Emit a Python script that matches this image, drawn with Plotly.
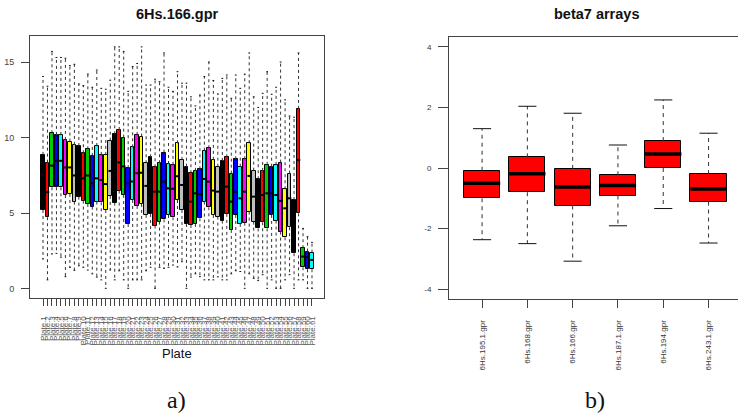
import plotly.graph_objects as go

# ---- Panel a: 61 plates of 6Hs.166.gpr ----
plate_labels = [f"Plate.{i}" for i in range(1, 62)]
plate_q1 = [5.22, 4.74, 6.72, 6.72, 6.72, 6.21, 6.28, 5.77, 6.10, 5.84,
            5.62, 5.44, 5.77, 5.73, 5.22, 6.15, 5.70, 6.50, 6.21, 4.30,
            5.88, 5.49, 5.62, 4.89, 4.95, 4.19, 4.45, 4.60, 4.89, 4.74,
            5.88, 5.22, 4.30, 4.23, 4.30, 4.67, 5.77, 5.40, 4.89, 4.78,
            4.52, 4.96, 3.90, 4.89, 4.30, 4.38, 5.11, 4.45, 4.00, 4.41,
            4.00, 4.89, 4.52, 3.79, 3.41, 4.08, 2.36, 5.00, 1.43, 1.30, 1.30]
plate_median = [6.72, 6.40, 8.15, 8.47, 8.47, 8.03, 8.03, 7.50, 7.40, 7.31,
                7.50, 6.98, 7.31, 7.20, 6.93, 7.80, 7.90, 8.36, 8.10, 6.98,
                7.10, 7.65, 7.68, 6.81, 6.50, 6.43, 6.43, 7.09, 6.65, 6.62,
                7.45, 6.87, 6.00, 5.77, 6.32, 6.28, 7.27, 7.09, 6.50, 6.43,
                6.40, 6.76, 5.77, 6.43, 5.99, 6.43, 7.47, 6.10, 5.90, 6.21,
                6.32, 6.32, 6.21, 5.82, 5.33, 5.99, 4.60, 8.53, 2.14, 2.10, 1.92]
plate_q3 = [8.86, 8.35, 10.29, 10.18, 10.18, 9.85, 9.74, 9.52, 9.45, 8.97,
            9.23, 8.79, 9.45, 8.86, 8.86, 9.80, 10.22, 10.51, 10.00, 7.98,
            9.36, 10.18, 10.07, 8.31, 8.70, 8.04, 8.31, 9.01, 8.26, 8.20,
            9.63, 8.53, 8.08, 7.65, 7.80, 7.91, 9.14, 9.30, 8.53, 8.08,
            8.46, 8.70, 7.62, 8.57, 8.08, 8.57, 9.63, 7.82, 7.25, 7.80,
            8.20, 8.08, 8.20, 8.35, 6.59, 7.62, 5.88, 11.90, 2.69, 2.47, 2.40]
plate_max = [14.04, 13.40, 15.70, 15.30, 15.30, 15.25, 14.76, 14.85, 13.55, 13.44,
             14.20, 13.33, 14.47, 13.26, 13.20, 13.80, 16.00, 16.00, 15.70, 13.06,
             14.70, 14.90, 16.00, 13.48, 13.48, 13.86, 13.70, 15.60, 13.33, 13.06,
             14.36, 13.60, 13.60, 12.70, 12.10, 12.82, 14.04, 15.00, 13.78, 12.89,
             13.92, 14.14, 12.60, 14.14, 13.26, 14.20, 15.60, 12.70, 12.00, 12.93,
             14.36, 12.87, 13.33, 15.00, 12.50, 11.43, 11.35, 15.60, 4.00, 3.45, 3.08]
plate_min = [1.98, 0.60, 2.31, 2.35, 2.10, 0.81, 1.43, 1.23, 1.53, 1.43,
             1.25, 1.00, 0.78, 0.60, 0.04, 1.25, 0.60, 1.20, 0.60, 0.04,
             0.60, 0.60, 0.60, 1.20, 1.43, 0.04, 1.43, 1.36, 1.43, 1.58,
             1.45, 1.80, 0.04, 0.78, 1.00, 0.81, 0.60, 0.60, 0.60, 0.80,
             0.60, 0.60, 1.00, 1.20, 1.15, 0.04, 1.00, 0.70, 0.55, 0.94,
             0.04, 0.60, 0.04, 0.04, 0.60, 0.94, 0.04, 0.60, 0.60, 0.04, 0.04]
plate_palette = ["#000000", "#FF0000", "#00CD00", "#0000FF",
                 "#00FFFF", "#FF00FF", "#FFFF00", "#BEBEBE"]

# ---- Panel b: beta7 arrays ----
array_labels = ["6Hs.195.1.gpr", "6Hs.168.gpr", "6Hs.166.gpr",
                "6Hs.187.1.gpr", "6Hs.194.gpr", "6Hs.243.1.gpr"]
array_q1 = [-1.00, -0.80, -1.24, -0.91, 0.00, -1.11]
array_median = [-0.50, -0.19, -0.63, -0.58, 0.46, -0.69]
array_q3 = [-0.09, 0.35, -0.03, -0.24, 0.89, -0.20]
array_max = [1.30, 2.04, 1.81, 0.76, 2.25, 1.15]
array_min = [-2.37, -2.50, -3.08, -1.91, -1.34, -2.48]

W, H = 738, 417
FONT = "Liberation Sans"
AXC = "#444444"


def px_x(p):
    return p / W


def px_y(p):
    return 1 - p / H


def box_traces(pos, q1, med, q3, lo, hi, colors, xa, ya,
               box_w, staple_w, med_w, dash, wcolor):
    wx, wy, sx, sy, mx, my = [], [], [], [], [], []
    for x, a, m, b, l, h in zip(pos, q1, med, q3, lo, hi):
        wx += [x, x, None, x, x, None]
        wy += [b, h, None, a, l, None]
        sx += [x - staple_w / 2, x + staple_w / 2, None,
               x - staple_w / 2, x + staple_w / 2, None]
        sy += [h, h, None, l, l, None]
        mx += [x - box_w / 2, x + box_w / 2, None]
        my += [m, m, None]
    common = dict(xaxis=xa, yaxis=ya, mode="lines", hoverinfo="skip",
                  showlegend=False)
    return [
        go.Scatter(x=wx, y=wy, line=dict(color=wcolor, width=1, dash=dash), **common),
        go.Scatter(x=sx, y=sy, line=dict(color="#111111", width=1), **common),
        go.Bar(x=pos, base=q1, y=[b - a for a, b in zip(q1, q3)], width=box_w,
               marker=dict(color=colors, line=dict(color="#000000", width=1)),
               xaxis=xa, yaxis=ya, showlegend=False, hoverinfo="skip"),
        go.Scatter(x=mx, y=my, line=dict(color="#000000", width=med_w), **common),
    ]


fig = go.Figure()

pos_a = list(range(1, len(plate_q1) + 1))
colors_a = [plate_palette[i % 8] for i in range(len(pos_a))]
for t in box_traces(pos_a, plate_q1, plate_median, plate_q3, plate_min, plate_max,
                    colors_a, "x", "y", 0.8, 0.4, 2, "3px,3px", "#333333"):
    fig.add_trace(t)

pos_b = list(range(1, len(array_q1) + 1))
for t in box_traces(pos_b, array_q1, array_median, array_q3, array_min, array_max,
                    ["#FF0000"] * len(pos_b), "x2", "y2", 0.8, 0.4, 3.5,
                    "4px,4px", "#333333"):
    fig.add_trace(t)

axis_common = dict(showgrid=False, zeroline=False, showline=True,
                   linecolor=AXC, linewidth=1, ticks="outside",
                   tickcolor=AXC, tickwidth=1, fixedrange=True)

fig.update_layout(
    width=W, height=H,
    margin=dict(l=0, r=0, t=0, b=0),
    paper_bgcolor="white", plot_bgcolor="white",
    bargap=0, barmode="overlay",
    font=dict(family=FONT, color="#333333"),
    xaxis=dict(domain=[px_x(30), px_x(324)], range=[-1.9, 63.68],
               tickmode="array", tickvals=pos_a, ticktext=plate_labels,
               tickangle=-90, ticklen=7, ticklabelstandoff=7,
               tickfont=dict(size=8, color="#555555"),
               mirror=True, anchor="y", **axis_common),
    yaxis=dict(domain=[px_y(298), px_y(36)], range=[-0.6, 16.72],
               tickmode="array", tickvals=[0, 5, 10, 15],
               ticklen=8, ticklabelstandoff=5,
               tickfont=dict(size=9, color="#444444"),
               mirror=True, anchor="x", **axis_common),
    xaxis2=dict(domain=[px_x(449), 1.0], range=[0.27, 6.65],
                tickmode="array", tickvals=pos_b, ticktext=array_labels,
                tickangle=-90, ticklen=8, ticklabelstandoff=9,
                tickfont=dict(size=8, color="#333333"),
                mirror=True, anchor="y2", **axis_common),
    yaxis2=dict(domain=[px_y(299), px_y(37)], range=[-4.33, 4.33],
                tickmode="array", tickvals=[-4, -2, 0, 2, 4],
                ticktext=["-4", "-2", "0", "2", "4"],
                ticklen=10, ticklabelstandoff=5,
                tickfont=dict(size=8, color="#333333"),
                anchor="x2", **axis_common),
)

annotations = [
    dict(text="<b>6Hs.166.gpr</b>", x=px_x(177), y=px_y(14),
         font=dict(size=14.5, color="#111111", family=FONT)),
    dict(text="<b>beta7 arrays</b>", x=px_x(596), y=px_y(14),
         font=dict(size=14.5, color="#111111", family=FONT)),
    dict(text="Plate", x=px_x(177), y=px_y(353),
         font=dict(size=13, color="#111111", family=FONT)),
    dict(text="a)", x=px_x(176), y=px_y(400),
         font=dict(size=24, color="#111111", family="Liberation Serif")),
    dict(text="b)", x=px_x(595), y=px_y(400),
         font=dict(size=24, color="#111111", family="Liberation Serif")),
]
for a in annotations:
    fig.add_annotation(xref="paper", yref="paper", showarrow=False,
                       xanchor="center", yanchor="middle", **a)

fig.write_html("out.html")
